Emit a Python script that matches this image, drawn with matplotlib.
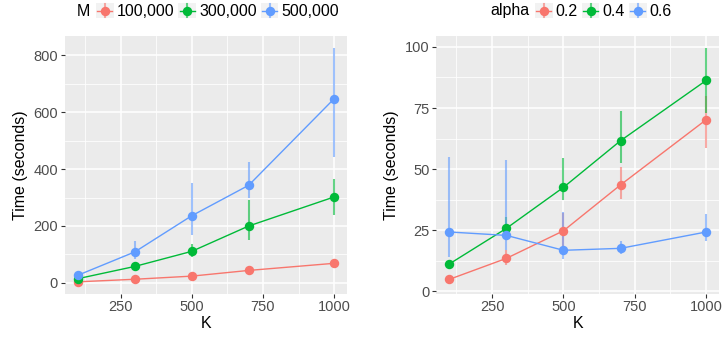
import matplotlib
matplotlib.use("Agg")
import matplotlib.pyplot as plt
from matplotlib.patches import Rectangle
from matplotlib.lines import Line2D
import numpy as np

plt.rcParams['font.family'] = ['Liberation Sans', 'DejaVu Sans']

K = [100, 300, 500, 700, 1000]

# Left panel: M series
m_labels = ["100,000", "300,000", "500,000"]
m100 = [4, 13, 24, 44, 69]
m100_lo = [3, 11, 21, 40, 64]
m100_hi = [6, 15, 28, 48, 74]
m300 = [15, 58, 111, 200, 302]
m300_lo = [10, 46, 91, 152, 240]
m300_hi = [22, 74, 136, 291, 364]
m500 = [27, 109, 236, 343, 647]
m500_lo = [22, 83, 168, 298, 441]
m500_hi = [38, 146, 350, 424, 824]

# Right panel: alpha series
a_labels = ["0.2", "0.4", "0.6"]
a02 = [4.8, 13.4, 24.7, 43.5, 70.2]
a02_lo = [3.2, 10.8, 18.0, 37.6, 58.5]
a02_hi = [6.4, 17.0, 32.0, 51.0, 80.0]
a04 = [11.1, 25.7, 42.5, 61.6, 86.3]
a04_lo = [9.5, 21.0, 37.3, 52.3, 73.0]
a04_hi = [12.8, 30.5, 54.4, 73.8, 99.6]
a06 = [24.2, 22.8, 16.7, 17.5, 24.2]
a06_lo = [14.0, 17.0, 13.1, 15.0, 20.5]
a06_hi = [55.0, 53.7, 32.5, 20.5, 31.4]

colors = ["#F8766D", "#00BA38", "#619CFF"]

W, H = 722, 337
fig = plt.figure(figsize=(W / 100, H / 100), dpi=100)


def px_axes(x0, y0, x1, y1):
    return fig.add_axes([x0 / W, 1 - y1 / H, (x1 - x0) / W, (y1 - y0) / H])


def style(ax, xlim, ylim, yticks, yminor):
    ax.set_facecolor("#EBEBEB")
    for s in ax.spines.values():
        s.set_visible(False)
    ax.set_xlim(*xlim)
    ax.set_ylim(*ylim)
    ax.set_xticks([250, 500, 750, 1000])
    ax.set_xticks([125, 375, 625, 875], minor=True)
    ax.set_yticks(yticks)
    ax.set_yticks(yminor, minor=True)
    ax.grid(which="major", color="white", linewidth=1.1)
    ax.grid(which="minor", color="white", linewidth=0.55)
    ax.set_axisbelow(True)
    ax.tick_params(which="major", length=3, width=0.8, color="#333333",
                   labelcolor="#4D4D4D", labelsize=10.5, pad=2)
    ax.tick_params(which="minor", length=0)
    ax.set_xlabel("K", fontsize=11.5, labelpad=1)
    ax.set_ylabel("Time (seconds)", fontsize=11.5, labelpad=4)


def draw(ax, series):
    for (y, lo, hi), c in zip(series, colors):
        ax.vlines(K, lo, hi, color=c, alpha=0.6, linewidth=1.5, zorder=2)
    for (y, lo, hi), c in zip(series, colors):
        ax.plot(K, y, color=c, linewidth=1.0, zorder=3)
    for (y, lo, hi), c in zip(series, colors):
        ax.plot(K, y, linestyle="none", marker="o", markersize=6.8,
                color=c, markeredgewidth=0, zorder=4)


class KeyHandler:
    def legend_artist(self, legend, orig_handle, fontsize, handlebox):
        x0, y0 = handlebox.xdescent, handlebox.ydescent
        w, h = handlebox.width, handlebox.height
        tr = handlebox.get_transform()
        c = orig_handle.get_color()
        rect = Rectangle((-x0, -y0), w, h, facecolor="#F2F2F2",
                         edgecolor="none", transform=tr)
        handlebox.add_artist(rect)
        cx, cy = -x0 + w / 2, -y0 + h / 2
        hl = Line2D([-x0 + 1, -x0 + w - 1], [cy, cy], color=c, lw=1.0, transform=tr)
        vl = Line2D([cx, cx], [-y0 + 1, -y0 + h - 1], color=c, lw=1.5, alpha=0.6, transform=tr)
        pt = Line2D([cx], [cy], marker="o", markersize=6.8, color=c,
                    markeredgewidth=0, linestyle="none", transform=tr)
        handlebox.add_artist(vl)
        handlebox.add_artist(hl)
        handlebox.add_artist(pt)
        return rect


def legend(title, title_x, key_x, labels):
    fig.text(title_x / W, 1 - 11 / H, title, fontsize=11.5, ha="left", va="center")
    handles = [Line2D([], [], color=c) for c in colors]
    fig.legend(handles, labels, loc="center left",
               bbox_to_anchor=(key_x / W, 1 - 11 / H), ncol=3, frameon=False,
               fontsize=11.5, handlelength=1.1, handleheight=1.1,
               handletextpad=0.2, columnspacing=0.25, borderpad=0,
               borderaxespad=0, handler_map={Line2D: KeyHandler()})


# Left panel
axL = px_axes(65, 36, 347, 293.5)
style(axL, (55, 1045), (-37, 867), [0, 200, 400, 600, 800], [100, 300, 500, 700])
draw(axL, [(m100, m100_lo, m100_hi), (m300, m300_lo, m300_hi), (m500, m500_lo, m500_hi)])

# Right panel
axR = px_axes(436.5, 36, 719, 293.5)
style(axR, (55, 1045), (-1.0, 104.5), [0, 25, 50, 75, 100], [12.5, 37.5, 62.5, 87.5])
draw(axR, [(a02, a02_lo, a02_hi), (a04, a04_lo, a04_hi), (a06, a06_lo, a06_hi)])

legend("M", 77, 96, m_labels)
legend("alpha", 490, 535, a_labels)

fig.savefig("out.png", dpi=100)
